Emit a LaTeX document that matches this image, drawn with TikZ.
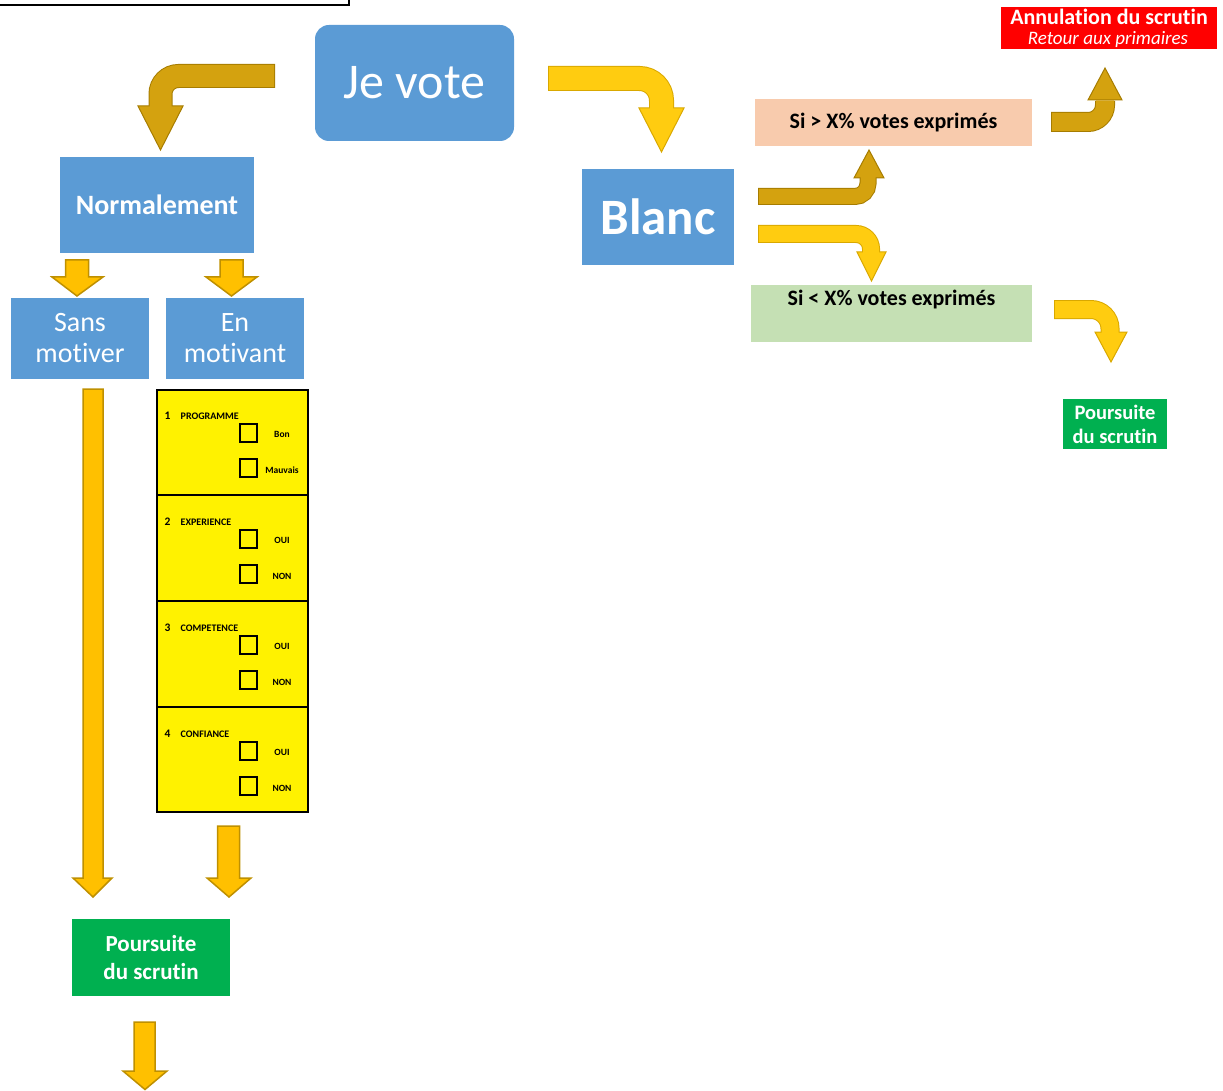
\documentclass[tikz,border=0pt]{standalone}
\usepackage{fontspec}
\setmainfont{Carlito}[Ligatures=NoCommon]
\definecolor{boxblue}{HTML}{5B9BD5}
\definecolor{peach}{HTML}{F8CBAD}
\definecolor{lgreen}{HTML}{C5E0B4}
\definecolor{dgreen}{HTML}{00B050}
\definecolor{aFill}{HTML}{FFC000}
\definecolor{aLine}{HTML}{BF9000}
\definecolor{dkFill}{HTML}{D4A20F}
\definecolor{dkLine}{HTML}{A67C00}
\definecolor{brFill}{HTML}{FFCC10}
\definecolor{brLine}{HTML}{D9A800}
\begin{document}
\begin{tikzpicture}[x=1pt,y=-1pt,
  bluebox/.style={fill=boxblue,text=white,inner sep=0pt,align=center},
  greenbox/.style={fill=dgreen,text=white,inner sep=0pt,align=center,font=\bfseries},
  straightarrow/.style={fill=aFill,draw=aLine,line width=1.5pt,line join=miter},
  chk/.style={draw=black,line width=1.6pt},
  small/.style={font=\bfseries\fontsize{9.5}{10}\selectfont,inner sep=0pt}]
\useasboundingbox (0,0) rectangle (1223,1091);

% top-left partial frame
\begin{scope}
\clip (0,0) rectangle (1223,1091);
\draw[line width=2pt] (-5,-20) rectangle (349,5);
\end{scope}

% main boxes
\node[bluebox,rounded corners=14pt,minimum width=199pt,minimum height=116pt,font=\fontsize{50}{56}\selectfont] (vote) at (414.5,83) {Je vote};
\node[bluebox,minimum width=194pt,minimum height=96pt,font=\bfseries\fontsize{28}{32}\selectfont] (norm) at (157,205) {Normalement};
\node[bluebox,minimum width=138pt,minimum height=81pt,font=\fontsize{28}{31}\selectfont] (sans) at (80,338.5) {Sans\\motiver};
\node[bluebox,minimum width=138pt,minimum height=81pt,font=\fontsize{28}{31}\selectfont] (en) at (235,338.5) {En\\motivant};
\node[bluebox,minimum width=152pt,minimum height=96pt,font=\bfseries\fontsize{51}{56}\selectfont] (blanc) at (658,217) {Blanc};
\node[fill=peach,minimum width=277pt,minimum height=47pt,inner sep=0pt,font=\bfseries\fontsize{22}{25}\selectfont] (sup) at (893.5,122.5) {Si > X\% votes exprimés};
\node[fill=lgreen,minimum width=281pt,minimum height=57pt,inner sep=0pt] (inf) at (891.5,313.5) {};
\node[font=\bfseries\fontsize{22}{25}\selectfont,inner sep=0pt] (inftxt) at (891.5,300) {Si < X\% votes exprimés};
\node[fill=red,minimum width=216pt,minimum height=42pt,inner sep=0pt] (annul) at (1109,28) {};
\node[text=white,font=\bfseries\fontsize{22}{22}\selectfont,inner sep=0pt] (annul1) at (1109,16.5) {Annulation du scrutin};
\node[text=white,font=\itshape\fontsize{19}{19}\selectfont,inner sep=0pt] (annul2) at (1108,39) {Retour aux primaires};
\node[greenbox,minimum width=104pt,minimum height=50pt,font=\bfseries\fontsize{20.5}{24}\selectfont] (pr) at (1115,424) {Poursuite\\du scrutin};
\node[greenbox,minimum width=158pt,minimum height=77pt,font=\bfseries\fontsize{23}{28}\selectfont] (pb) at (151,957.5) {Poursuite\\du scrutin};

% checklist
\node[fill=yellow,draw=black,line width=2.5pt,minimum width=151pt,minimum height=422pt,inner sep=0pt] (list) at (232.5,601) {};
\foreach \yy in {495,601,707} \draw[line width=2pt] (157,\yy) -- (308,\yy);
\foreach \i/\lab/\a/\b in {0/PROGRAMME/Bon/Mauvais,1/EXPERIENCE/OUI/NON,2/COMPETENCE/OUI/NON,3/CONFIANCE/OUI/NON}{
  \pgfmathsetmacro\yz{390+106*\i}
  \node[font=\bfseries\fontsize{11.5}{12}\selectfont,inner sep=0pt] (num\i) at (167.5,\yz+25.5) {\pgfmathparse{int(\i+1)}\pgfmathresult};
  \node[small,anchor=west,font=\bfseries\fontsize{10}{10}\selectfont] (lab\i) at (180.5,\yz+26.5) {\lab};
  \draw[chk] (240,\yz+34) rectangle (257,\yz+52);
  \draw[chk] (240,\yz+69) rectangle (257,\yz+87);
  \node[small] (a\i) at (282,\yz+44) {\a};
  \node[small] (b\i) at (282,\yz+80) {\b};
}

% straight arrows
\draw[straightarrow] (65.5,260)--(88.5,260)--(88.5,277)--(103,277)--(77,296)--(52,277)--(65.5,277)--cycle;
\draw[straightarrow] (220,260)--(243,260)--(243,277)--(257,277)--(231.5,296)--(206,277)--(220,277)--cycle;
\draw[straightarrow] (83,389)--(103,389)--(103,878)--(112,878)--(93,897)--(73,878)--(83,878)--cycle;
\draw[straightarrow] (217.5,826)--(239.5,826)--(239.5,878)--(251,878)--(229,897)--(207,878)--(217.5,878)--cycle;
\draw[straightarrow] (134,1022)--(155,1022)--(155,1071)--(167,1071)--(145,1089.5)--(123,1071)--(134,1071)--cycle;

% bent arrows: outline, head, fill
% A1 vote -> Normalement
\draw[dkLine,line width=24pt,rounded corners=18pt] (275,76) -- (160.5,76) -- (160.5,107);
\filldraw[fill=dkFill,draw=dkLine,line width=1pt] (138,106) -- (183,106) -- (160.5,150) -- cycle;
\draw[dkFill,line width=22pt,rounded corners=18pt] (274,76) -- (160.5,76) -- (160.5,107.5);
% A2 vote -> Blanc
\draw[brLine,line width=25pt,rounded corners=22pt] (548,78.5) -- (661.5,78.5) -- (661.5,109);
\filldraw[fill=brFill,draw=brLine,line width=1pt] (639,108) -- (684,108) -- (661.5,152) -- cycle;
\draw[brFill,line width=23pt,rounded corners=22pt] (549,78.5) -- (661.5,78.5) -- (661.5,109.5);
% A3 Blanc -> Si >
\draw[dkLine,line width=17pt,rounded corners=13pt] (758,196.5) -- (868,196.5) -- (868,177);
\filldraw[fill=dkFill,draw=dkLine,line width=1pt] (854,178) -- (884,178) -- (869,150) -- cycle;
\draw[dkFill,line width=15pt,rounded corners=13pt] (759,196.5) -- (868,196.5) -- (868,176.5);
% A4 Blanc -> Si <
\draw[brLine,line width=18pt,rounded corners=15pt] (758,234) -- (871,234) -- (871,253);
\filldraw[fill=brFill,draw=brLine,line width=1pt] (857,252) -- (886,252) -- (871.5,281) -- cycle;
\draw[brFill,line width=16pt,rounded corners=15pt] (759,234) -- (871,234) -- (871,253.5);
% A5 Si > -> Annulation
\draw[dkLine,line width=20pt,rounded corners=17pt] (1051,122) -- (1105,122) -- (1105,101);
\filldraw[fill=dkFill,draw=dkLine,line width=1pt] (1088,100) -- (1122,100) -- (1105,68) -- cycle;
\draw[dkFill,line width=18pt,rounded corners=17pt] (1052,122) -- (1105,122) -- (1105,100.5);
% A6 Si < -> Poursuite
\draw[brLine,line width=19pt,rounded corners=19pt] (1054,309.5) -- (1110,309.5) -- (1110,333);
\filldraw[fill=brFill,draw=brLine,line width=1pt] (1095,332) -- (1127,332) -- (1111,362) -- cycle;
\draw[brFill,line width=17pt,rounded corners=19pt] (1055,309.5) -- (1110,309.5) -- (1110,333.5);
\end{tikzpicture}
\end{document}
